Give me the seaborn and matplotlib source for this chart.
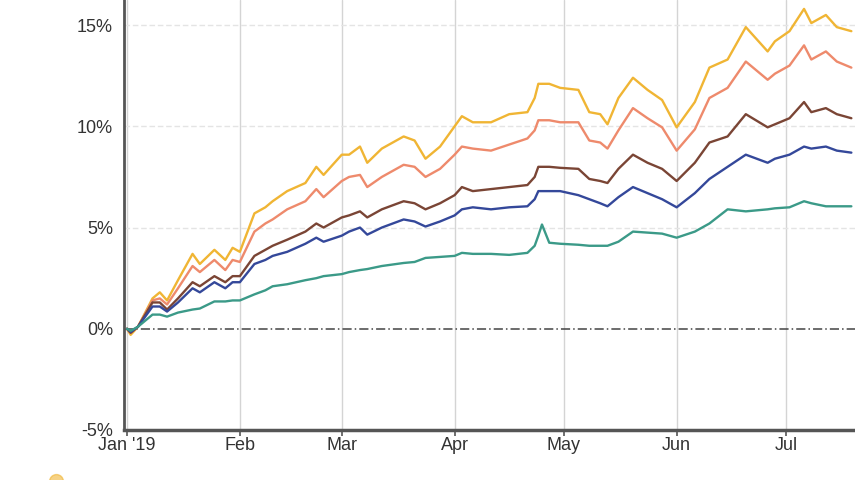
import matplotlib
matplotlib.use("Agg")
import matplotlib.pyplot as plt
import matplotlib.dates as mdates
from matplotlib.ticker import FuncFormatter, FixedLocator
from matplotlib.lines import Line2D
import seaborn as sns
import pandas as pd
import numpy as np

# ---------------- data ----------------
dates = [
    "2019-01-01", "2019-01-02", "2019-01-04", "2019-01-08", "2019-01-10", "2019-01-12",
    "2019-01-15", "2019-01-19", "2019-01-21", "2019-01-25", "2019-01-28", "2019-01-30",
    "2019-02-01", "2019-02-05", "2019-02-08", "2019-02-10", "2019-02-14", "2019-02-19",
    "2019-02-22", "2019-02-24", "2019-03-01", "2019-03-03", "2019-03-06", "2019-03-08",
    "2019-03-12", "2019-03-18", "2019-03-21", "2019-03-24", "2019-03-28", "2019-04-01",
    "2019-04-03", "2019-04-06", "2019-04-11", "2019-04-16", "2019-04-21", "2019-04-23",
    "2019-04-24", "2019-04-25", "2019-04-27", "2019-04-30", "2019-05-05", "2019-05-08",
    "2019-05-11", "2019-05-13", "2019-05-16", "2019-05-20", "2019-05-24", "2019-05-28",
    "2019-06-01", "2019-06-06", "2019-06-10", "2019-06-15", "2019-06-20", "2019-06-26",
    "2019-06-28", "2019-07-02", "2019-07-06", "2019-07-08", "2019-07-12", "2019-07-15",
    "2019-07-19",
]

series_yellow = [
    0.0, -0.3, 0.1, 1.5, 1.8, 1.4, 2.4, 3.7, 3.2, 3.9, 3.4, 4.0,
    3.8, 5.7, 6.0, 6.3, 6.8, 7.2, 8.0, 7.6, 8.6, 8.6, 9.0, 8.2,
    8.9, 9.5, 9.3, 8.4, 9.0, 10.0, 10.5, 10.2, 10.2, 10.6, 10.7, 11.4,
    12.1, 12.1, 12.1, 11.9, 11.8, 10.7, 10.6, 10.1, 11.4, 12.4, 11.8, 11.3,
    9.95, 11.2, 12.9, 13.3, 14.9, 13.7, 14.2, 14.7, 15.8, 15.1, 15.5, 14.9,
    14.7,
]
series_salmon = [
    0.0, -0.2, 0.1, 1.4, 1.5, 1.2, 2.0, 3.1, 2.8, 3.4, 2.9, 3.4,
    3.3, 4.8, 5.2, 5.4, 5.9, 6.3, 6.9, 6.5, 7.3, 7.5, 7.6, 7.0,
    7.5, 8.1, 8.0, 7.5, 7.9, 8.6, 9.0, 8.9, 8.8, 9.1, 9.4, 9.8,
    10.3, 10.3, 10.3, 10.2, 10.2, 9.3, 9.2, 8.9, 9.8, 10.9, 10.4, 9.95,
    8.8, 9.85, 11.4, 11.9, 13.2, 12.3, 12.6, 13.0, 14.0, 13.3, 13.7, 13.2,
    12.9,
]
series_brown = [
    0.0, -0.2, 0.1, 1.3, 1.3, 0.95, 1.5, 2.3, 2.1, 2.6, 2.3, 2.6,
    2.6, 3.6, 3.9, 4.1, 4.4, 4.8, 5.2, 5.0, 5.5, 5.6, 5.8, 5.5,
    5.9, 6.3, 6.2, 5.9, 6.2, 6.6, 7.0, 6.8, 6.9, 7.0, 7.1, 7.5,
    8.0, 8.0, 8.0, 7.95, 7.9, 7.4, 7.3, 7.2, 7.9, 8.6, 8.2, 7.9,
    7.3, 8.2, 9.2, 9.5, 10.6, 9.95, 10.1, 10.4, 11.2, 10.7, 10.9, 10.6,
    10.4,
]
series_blue = [
    0.0, -0.15, 0.1, 1.1, 1.1, 0.85, 1.3, 2.0, 1.8, 2.3, 2.0, 2.3,
    2.3, 3.2, 3.4, 3.6, 3.8, 4.2, 4.5, 4.3, 4.6, 4.8, 5.0, 4.65,
    5.0, 5.4, 5.3, 5.05, 5.3, 5.6, 5.9, 6.0, 5.9, 6.0, 6.05, 6.4,
    6.8, 6.8, 6.8, 6.8, 6.6, 6.4, 6.2, 6.05, 6.5, 7.0, 6.7, 6.4,
    6.0, 6.7, 7.4, 8.0, 8.6, 8.2, 8.4, 8.6, 9.0, 8.9, 9.0, 8.8,
    8.7,
]
series_teal = [
    0.0, -0.1, 0.1, 0.7, 0.7, 0.6, 0.8, 0.95, 1.0, 1.35, 1.35, 1.4,
    1.4, 1.7, 1.9, 2.1, 2.2, 2.4, 2.5, 2.6, 2.7, 2.8, 2.9, 2.95,
    3.1, 3.25, 3.3, 3.5, 3.55, 3.6, 3.75, 3.7, 3.7, 3.65, 3.75, 4.1,
    4.6, 5.15, 4.25, 4.2, 4.15, 4.1, 4.1, 4.1, 4.3, 4.8, 4.75, 4.7,
    4.5, 4.8, 5.2, 5.9, 5.8, 5.9, 5.95, 6.0, 6.3, 6.2, 6.05, 6.05,
    6.05,
]

series_names = ["Series A", "Series B", "Series C", "Series D", "Series E"]
series_values = [series_yellow, series_salmon, series_brown, series_blue, series_teal]
series_colors = ["#f0b534", "#ee8a6c", "#7a4535", "#34489a", "#3b9a88"]

y_ticks = [-5, 0, 5, 10, 15]
month_ticks = ["2019-01-01", "2019-02-01", "2019-03-01", "2019-04-01",
               "2019-05-01", "2019-06-01", "2019-07-01"]
month_labels = ["Jan '19", "Feb", "Mar", "Apr", "May", "Jun", "Jul"]

# ---------------- frame ----------------
frames = []
for name, vals in zip(series_names, series_values):
    frames.append(pd.DataFrame({"date": pd.to_datetime(dates), "value": vals, "series": name}))
df = pd.concat(frames, ignore_index=True)

sns.set_style("white")
plt.rcParams["font.family"] = ["Liberation Sans", "DejaVu Sans"]

fig = plt.figure(figsize=(8.55, 4.8), dpi=100)
ax = fig.add_axes([124 / 855, 50 / 480, 1 - 124 / 855, 1 - 50 / 480])

# grid
for t in month_ticks:
    ax.axvline(pd.Timestamp(t), color="#d4d4d4", lw=1.0, zorder=0)
for yv in [5, 10, 15]:
    ax.axhline(yv, color="#e4e4e4", lw=1.0, ls=(0, (4, 2)), zorder=0)
ax.axhline(0, color="#444444", lw=1.1, ls=(0, (6, 2, 1, 2)), zorder=1)

sns.lineplot(data=df, x="date", y="value", hue="series", palette=series_colors,
             hue_order=series_names, lw=1.7, ax=ax, legend=False, zorder=3)

ax.set_xlim(pd.Timestamp("2019-01-01") - pd.Timedelta(hours=20), pd.Timestamp("2019-07-20"))
ax.set_ylim(-5, 16.24)
ax.set_xlabel("")
ax.set_ylabel("")

ax.xaxis.set_major_locator(FixedLocator(mdates.date2num(pd.to_datetime(month_ticks))))
ax.set_xticklabels(month_labels)
ax.set_yticks(y_ticks)
ax.yaxis.set_major_formatter(FuncFormatter(lambda v, p: f"{v:.0f}%"))

for side in ["top", "right"]:
    ax.spines[side].set_visible(False)
ax.spines["left"].set_color("#555555")
ax.spines["left"].set_linewidth(2.0)
ax.spines["bottom"].set_color("#555555")
ax.spines["bottom"].set_linewidth(2.5)

ax.tick_params(axis="x", length=4, width=1.2, color="#555555", labelsize=13,
               labelcolor="#333333", pad=1, bottom=True)
ax.tick_params(axis="y", length=0, labelsize=13, labelcolor="#333333", pad=8)

# legend marker peeking in at the bottom edge (rest of the legend lies below the crop)
handles = [Line2D([0], [0], marker="o", color="none", markerfacecolor=series_colors[0],
                  markeredgecolor=series_colors[0], markersize=10, alpha=0.6)]
fig.legend(handles, [""], loc="center left", bbox_to_anchor=(0.048, -0.004),
           frameon=False, handletextpad=0.0, borderpad=0.0, handlelength=1.2)

fig.savefig("out.png", dpi=100)
